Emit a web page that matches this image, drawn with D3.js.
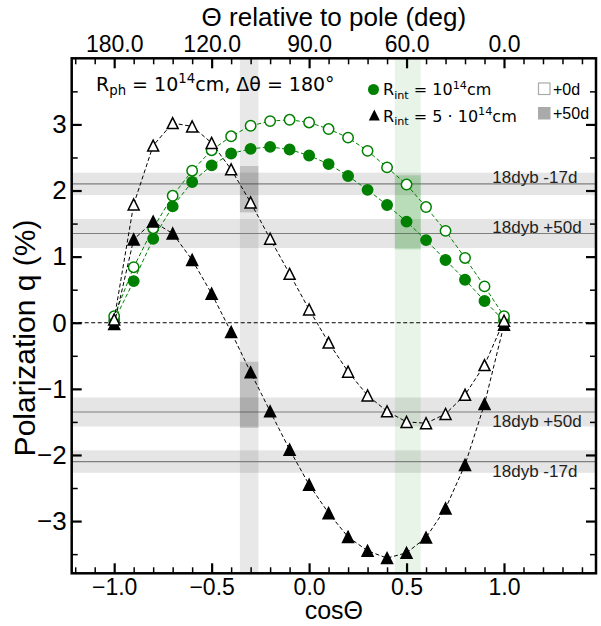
<!DOCTYPE html>
<html>
<head>
<meta charset="utf-8">
<script src="https://cdn.jsdelivr.net/npm/d3@7/dist/d3.min.js"></script>
<style>
  html, body { margin: 0; padding: 0; background: #fff; }
  svg { display: block; }
  text { font-family: "Liberation Sans", Arial, sans-serif; }
</style>
</head>
<body>
<script>
// ---------------- data ----------------
const cosTheta = [-1.0,-0.9,-0.8,-0.7,-0.6,-0.5,-0.4,-0.3,-0.2,-0.1,0.0,0.1,0.2,0.3,0.4,0.5,0.6,0.7,0.8,0.9,1.0];
// R_int = 1e14 cm, +0d (open green circles)
const greenOpen   = [0.10,0.84,1.43,1.92,2.30,2.61,2.82,2.98,3.05,3.07,3.03,2.93,2.80,2.60,2.35,2.09,1.75,1.39,0.98,0.55,0.10];
// R_int = 1e14 cm, +50d (filled green circles)
const greenFilled = [0.03,0.63,1.27,1.76,2.13,2.38,2.56,2.63,2.66,2.62,2.53,2.40,2.22,2.01,1.78,1.53,1.25,0.95,0.65,0.33,0.03];
// R_int = 5e14 cm, +0d (open triangles)
const triOpen     = [0.05,1.79,2.68,3.02,2.97,2.72,2.32,1.82,1.27,0.74,0.20,-0.30,-0.74,-1.10,-1.34,-1.50,-1.52,-1.38,-1.09,-0.64,0.03];
// R_int = 5e14 cm, +50d (filled triangles)
const triFilled   = [-0.02,1.26,1.53,1.35,0.95,0.44,-0.14,-0.75,-1.34,-1.92,-2.45,-2.88,-3.24,-3.45,-3.56,-3.48,-3.25,-2.81,-2.15,-1.23,-0.03];

// observed levels (18dyb)
const obsLabels = ["18dyb -17d","18dyb +50d"];
const obsValues = [2.10, 1.35];
const obsErr    = [0.17, 0.22];

// vertical angle bands (cosTheta ranges)
const grayBand  = [-0.355, -0.26];
const greenBand = [0.44, 0.573];
// darker boxes inside bands [q low, q high]
const grayBoxes  = [[1.67, 2.37], [-1.59, -0.59]];
const greenBoxes = [[1.11, 2.23]];

const xMajor = [-1.0,-0.5,0.0,0.5,1.0];
const topLabels = ["180.0","120.0","90.0","60.0","0.0"];
const yMajor = [-3,-2,-1,0,1,2,3];

// ---------------- setup ----------------
const W = 601, H = 626;
const L = 71.7, R = 596, T = 58.3, B = 573.3;
const x = d3.scaleLinear().domain([-1.218, 1.472]).range([L, R]);
const y = d3.scaleLinear().domain([-3.79, 4.0]).range([B, T]);

const svg = d3.select("body").append("svg").attr("width", W).attr("height", H);
const plot = svg.append("g");
svg.append("defs").append("clipPath").attr("id","clip")
  .append("rect").attr("x",L).attr("y",T).attr("width",R-L).attr("height",B-T);
const clipped = plot.append("g").attr("clip-path","url(#clip)");

// bands
clipped.append("rect").attr("x",x(grayBand[0])).attr("width",x(grayBand[1])-x(grayBand[0]))
  .attr("y",T).attr("height",B-T).attr("fill","#000").attr("fill-opacity",0.09);
clipped.append("rect").attr("x",x(greenBand[0])).attr("width",x(greenBand[1])-x(greenBand[0]))
  .attr("y",T).attr("height",B-T).attr("fill","#008000").attr("fill-opacity",0.09);

obsValues.forEach((v,i)=>{
  [v,-v].forEach(s=>{
    clipped.append("rect").attr("x",L).attr("width",R-L)
      .attr("y",y(s+obsErr[i])).attr("height",y(s-obsErr[i])-y(s+obsErr[i]))
      .attr("fill","#000").attr("fill-opacity",0.1);
    clipped.append("line").attr("x1",L).attr("x2",R).attr("y1",y(s)).attr("y2",y(s))
      .attr("stroke","#7f7f7f").attr("stroke-width",1.2);
  });
});

grayBoxes.forEach(b=>{
  clipped.append("rect").attr("x",x(grayBand[0])).attr("width",x(grayBand[1])-x(grayBand[0]))
    .attr("y",y(b[1])).attr("height",y(b[0])-y(b[1])).attr("fill","#000").attr("fill-opacity",0.17);
});
greenBoxes.forEach(b=>{
  clipped.append("rect").attr("x",x(greenBand[0])).attr("width",x(greenBand[1])-x(greenBand[0]))
    .attr("y",y(b[1])).attr("height",y(b[0])-y(b[1])).attr("fill","#008000").attr("fill-opacity",0.2);
});

// zero line
clipped.append("line").attr("x1",L).attr("x2",R).attr("y1",y(0)).attr("y2",y(0))
  .attr("stroke","#000").attr("stroke-width",1).attr("stroke-dasharray","4,2.5");

// obs labels
obsValues.forEach((v,i)=>{
  plot.append("text").attr("x",x(0.94)).attr("y",y(v)-0.5).attr("font-size",17).attr("fill","#222").text(obsLabels[i]);
});
obsValues.forEach((v,i)=>{
  plot.append("text").attr("x",x(0.94)).attr("y",y(-v)+15).attr("font-size",17).attr("fill","#222").text(obsLabels[i]);
});

// series
const line = d3.line().x((d,i)=>x(cosTheta[i])).y(d=>y(d));
function series(vals, color, marker, filled){
  clipped.append("path").datum(vals).attr("d",line).attr("fill","none")
    .attr("stroke",color).attr("stroke-width",1).attr("stroke-dasharray","4,2.5");
  const g = clipped.append("g");
  if(marker==="circle"){
    g.selectAll("circle").data(vals).join("circle")
      .attr("cx",(d,i)=>x(cosTheta[i])).attr("cy",d=>y(d)).attr("r",5.2)
      .attr("fill",filled?color:"#fff").attr("stroke",color).attr("stroke-width",1.5);
  } else {
    const s = 5.5;
    g.selectAll("path").data(vals).join("path")
      .attr("d",(d,i)=>{const cx=x(cosTheta[i]), cy=y(d);
        return `M${cx},${cy-s}L${cx-s},${cy+s}L${cx+s},${cy+s}Z`;})
      .attr("fill",filled?color:"#fff").attr("stroke",color).attr("stroke-width",1.5)
      .attr("stroke-linejoin","miter");
  }
}
series(greenFilled,"#008000","circle",true);
series(greenOpen,"#008000","circle",false);
series(triFilled,"#000","tri",true);
series(triOpen,"#000","tri",false);

// ---------------- axes ----------------
function minorVals(lo,hi,step){const a=[];for(let v=lo;v<=hi+1e-9;v+=step){const r=Math.round(v/step)*step; a.push(+r.toFixed(4));}return a;}
const xMinor = minorVals(-1.2,1.4,0.1).filter(v=>!xMajor.some(m=>Math.abs(m-v)<1e-6));
const yMinor = minorVals(-3.5,3.5,0.5).filter(v=>!yMajor.some(m=>Math.abs(m-v)<1e-6));
const fmtMinus = d => (d<0?"\u2212":"") + Math.abs(d).toFixed(1);

function styleAxis(g, w){
  g.select(".domain").remove();
  g.selectAll(".tick line").attr("stroke","#000").attr("stroke-width",w);
  g.selectAll(".tick text").attr("fill","#000").style("font-family","'Liberation Sans', Arial, sans-serif");
}
// bottom
let g = svg.append("g").attr("transform",`translate(0,${B})`)
  .call(d3.axisBottom(x).tickValues(xMajor).tickSizeInner(-10).tickSizeOuter(0).tickPadding(5).tickFormat(fmtMinus));
styleAxis(g,2.2); g.selectAll(".tick text").attr("font-size",23);
g = svg.append("g").attr("transform",`translate(0,${B})`)
  .call(d3.axisBottom(x).tickValues(xMinor).tickSizeInner(-6).tickSizeOuter(0).tickFormat(""));
styleAxis(g,1.5);
// top
g = svg.append("g").attr("transform",`translate(0,${T})`)
  .call(d3.axisTop(x).tickValues(xMajor).tickSizeInner(-10).tickSizeOuter(0).tickPadding(6).tickFormat((d,i)=>topLabels[i]));
styleAxis(g,2.2); g.selectAll(".tick text").attr("font-size",23);
g = svg.append("g").attr("transform",`translate(0,${T})`)
  .call(d3.axisTop(x).tickValues(xMinor).tickSizeInner(-6).tickSizeOuter(0).tickFormat(""));
styleAxis(g,1.5);
// left
g = svg.append("g").attr("transform",`translate(${L},0)`)
  .call(d3.axisLeft(y).tickValues(yMajor).tickSizeInner(-10).tickSizeOuter(0).tickPadding(5).tickFormat(d=>(d<0?"\u2212":"")+Math.abs(d)));
styleAxis(g,2.2); g.selectAll(".tick text").attr("font-size",26);
g = svg.append("g").attr("transform",`translate(${L},0)`)
  .call(d3.axisLeft(y).tickValues(yMinor).tickSizeInner(-6).tickSizeOuter(0).tickFormat(""));
styleAxis(g,1.5);
// right
g = svg.append("g").attr("transform",`translate(${R},0)`)
  .call(d3.axisRight(y).tickValues(yMajor).tickSizeInner(-10).tickSizeOuter(0).tickFormat(""));
styleAxis(g,2.2);
g = svg.append("g").attr("transform",`translate(${R},0)`)
  .call(d3.axisRight(y).tickValues(yMinor).tickSizeInner(-6).tickSizeOuter(0).tickFormat(""));
styleAxis(g,1.5);

// frame
svg.append("rect").attr("x",L).attr("y",T).attr("width",R-L).attr("height",B-T)
  .attr("fill","none").attr("stroke","#000").attr("stroke-width",2.5);

// axis labels
svg.append("text").attr("x",(L+R)/2).attr("y",619).attr("text-anchor","middle").attr("font-size",25).text("cosΘ");
svg.append("text").attr("x",(L+R)/2).attr("y",26).attr("text-anchor","middle").attr("font-size",26).text("Θ relative to pole (deg)");
svg.append("text").attr("transform",`translate(35,338) rotate(-90)`).attr("text-anchor","middle")
  .attr("font-size",30).text("Polarization q (%)");

// annotation (mathtext-like)
const dj = "'DejaVu Sans', sans-serif";
function mathText(xp, yp, size, parts){
  const t = svg.append("text").attr("x",xp).attr("y",yp).attr("font-size",size).style("font-family",dj);
  let shift = 0;
  parts.forEach(p=>{
    const ts = t.append("tspan");
    let target = 0, fs = size;
    if(p.sub){ target = 0.22*size; fs = size*0.7; }
    if(p.sup){ target = -0.4*size; fs = size*0.7; }
    ts.attr("dy", target - shift).attr("font-size", fs).text(p.t);
    shift = target;
  });
}
mathText(96, 90.7, 19, [{t:"R"},{t:"ph",sub:1},{t:" = 10"},{t:"14",sup:1},{t:"cm, Δθ = 180°"}]);

// legend
svg.append("circle").attr("cx",373.5).attr("cy",89.5).attr("r",5.5).attr("fill","#008000");
mathText(383, 95, 16, [{t:"R"},{t:"int",sub:1},{t:" = 10"},{t:"14",sup:1},{t:"cm"}]);
const ts=5.5;
svg.append("path").attr("d",`M374.3,${115-ts}L${374.3-ts},${115+ts}L${374.3+ts},${115+ts}Z`).attr("fill","#000");
mathText(383, 121.5, 16, [{t:"R"},{t:"int",sub:1},{t:" = 5 · 10"},{t:"14",sup:1},{t:"cm"}]);

svg.append("rect").attr("x",538.5).attr("y",83).attr("width",11.5).attr("height",11.5)
  .attr("fill","#fff").attr("stroke","#aaa").attr("stroke-width",1.2);
svg.append("text").attr("x",553).attr("y",95).attr("font-size",16).text("+0d");
svg.append("rect").attr("x",538).attr("y",107).attr("width",12.5).attr("height",12.5).attr("fill","#aaa");
svg.append("text").attr("x",553).attr("y",119).attr("font-size",16).text("+50d");
</script>
</body>
</html>
